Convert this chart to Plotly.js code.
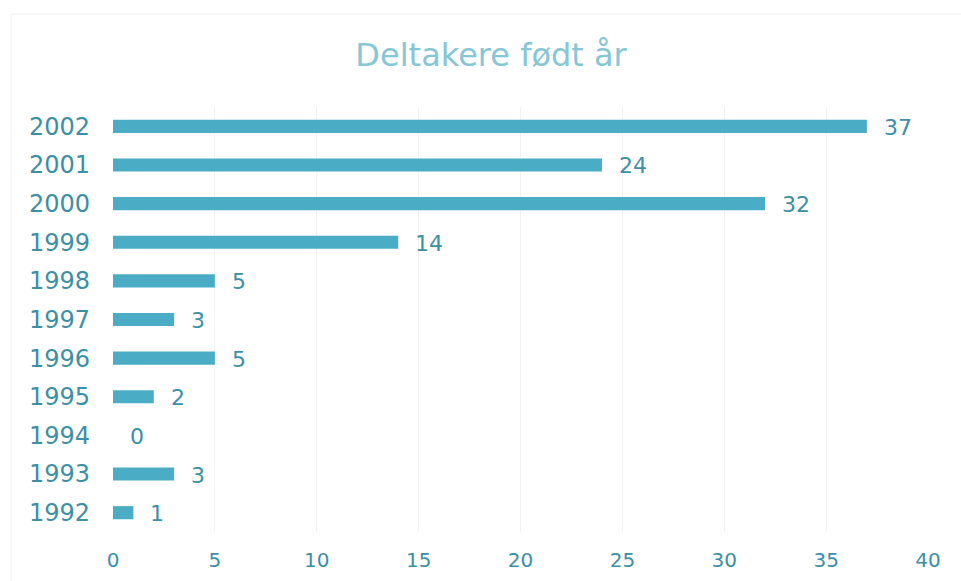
<!DOCTYPE html>
<html>
<head>
<meta charset="utf-8">
<script src="https://cdn.plot.ly/plotly-3.0.1.min.js"></script>
<style>html,body{margin:0;padding:0;background:#fff;}#chart{width:961px;height:581px;}</style>
</head>
<body>
<div id="chart"></div>
<script>
const years = ['1992','1993','1994','1995','1996','1997','1998','1999','2000','2001','2002'];
const counts = [1, 3, 0, 2, 5, 3, 5, 14, 32, 24, 37];
const xTicks = [0, 5, 10, 15, 20, 25, 30, 35, 40];
const titleText = 'Deltakere født år';

const barColor = '#4bacc6';
const labelColor = '#3b8fa6';
const font = 'DejaVu Sans, Verdana, sans-serif';

const trace = {
  type: 'bar',
  orientation: 'h',
  x: counts,
  y: years,
  marker: {color: barColor},
  hoverinfo: 'none'
};

const annotations = years.map((y, i) => ({
  x: counts[i], y: i, xref: 'x', yref: 'y',
  text: String(counts[i]), showarrow: false,
  xanchor: 'left', xshift: 15, yshift: -1,
  font: {family: font, size: 22, color: labelColor}
}));

const layout = {
  width: 961, height: 581,
  margin: {l: 113, r: 33, t: 107, b: 49},
  paper_bgcolor: '#ffffff', plot_bgcolor: '#ffffff',
  showlegend: false,
  bargap: 0.66,
  title: {text: titleText, x: 0.511, xanchor: 'center', y: 0.905, yanchor: 'middle',
          font: {family: font, size: 32, color: '#86c6d5'}},
  xaxis: {range: [0, 40], tickvals: xTicks, ticktext: xTicks.map(String),
          showgrid: true, gridcolor: '#f2f2f2', gridwidth: 1, zeroline: false,
          showline: false, ticks: '', ticklen: 0, ticklabelstandoff: 14,
          tickfont: {family: font, size: 20, color: labelColor}, fixedrange: true},
  yaxis: {type: 'category', categoryorder: 'array', categoryarray: years,
          range: [-0.5, years.length - 0.5], autorange: false,
          showgrid: false, zeroline: false, showline: false, ticks: '',
          ticklabelstandoff: 22,
          tickfont: {family: font, size: 24, color: labelColor}, fixedrange: true},
  annotations: annotations,
  shapes: [{type: 'rect', xref: 'paper', yref: 'paper',
            x0: (11 - 113) / 815, x1: (990 - 113) / 815,
            y0: (532 - 620) / 425, y1: (532 - 14) / 425,
            line: {color: '#f2f2f2', width: 1}, fillcolor: 'rgba(0,0,0,0)', layer: 'below'}]
};

Plotly.newPlot('chart', [trace], layout, {displayModeBar: false, staticPlot: true});
</script>
</body>
</html>
